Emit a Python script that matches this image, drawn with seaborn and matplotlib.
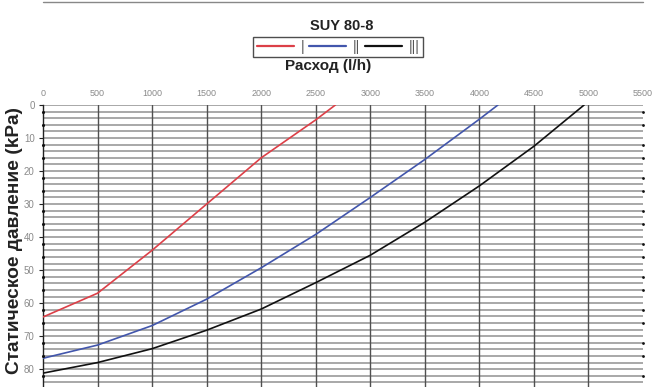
import numpy as np
import pandas as pd
import matplotlib
matplotlib.use("Agg")
import matplotlib.pyplot as plt
from matplotlib.lines import Line2D
import seaborn as sns

# Flow rate (l/h) and static pressure (kPa) for the three fan speeds
flow_I = [0, 500, 1000, 1500, 2000, 2500, 2680]
press_I = [64.2, 57.0, 44.0, 30.0, 16.0, 4.5, 0.0]

flow_II = [0, 500, 1000, 1500, 2000, 2500, 3000, 3500, 4000, 4170]
press_II = [76.7, 72.7, 66.8, 58.8, 49.3, 39.2, 28.0, 16.5, 4.3, 0.0]

flow_III = [0, 500, 1000, 1500, 2000, 2500, 3000, 3500, 4000, 4500, 4960]
press_III = [81.2, 78.0, 73.8, 68.2, 61.8, 53.8, 45.5, 35.5, 24.5, 12.5, 0.0]

speed_labels = ["|", "||", "|||"]
speed_colors = ["#dc4048", "#4256ac", "#111111"]

x_ticks = list(range(0, 5501, 500))
y_ticks = list(range(0, 81, 10))
marker_levels = [v for k in range(0, 90, 10) for v in (k + 2, k + 6)]

title = "SUY 80-8"
x_title = "Расход (l/h)"
y_title = "Статическое давление (kPa)"

df = pd.concat([
    pd.DataFrame({"flow": flow_I, "pressure": press_I, "speed": speed_labels[0]}),
    pd.DataFrame({"flow": flow_II, "pressure": press_II, "speed": speed_labels[1]}),
    pd.DataFrame({"flow": flow_III, "pressure": press_III, "speed": speed_labels[2]}),
], ignore_index=True)

sns.set_theme(style="white")
plt.rcParams["font.family"] = ["Liberation Sans", "DejaVu Sans"]

fig = plt.figure(figsize=(6.52, 3.87), dpi=100)
ax = fig.add_axes([43 / 652, 0.0, 600 / 652, 1 - 105 / 387])

# pressure grid every 2 kPa, flow grid every 500 l/h
for yv in np.arange(0, 86, 2):
    ax.axhline(yv, color="#a8a8a8", lw=1.4, zorder=1)
for xv in x_ticks[1:-1]:
    ax.axvline(xv, color="#505050", lw=1.0, zorder=1)

sns.lineplot(data=df, x="flow", y="pressure", hue="speed",
             palette=dict(zip(speed_labels, speed_colors)),
             sort=False, estimator=None, lw=1.2, ax=ax, zorder=3)

# small dot markers along both vertical edges
ax.scatter([0] * len(marker_levels), marker_levels, s=5, color="#111111",
           zorder=4, clip_on=False, linewidths=0)
ax.scatter([5500] * len(marker_levels), marker_levels, s=4, color="#111111",
           zorder=4, clip_on=False, linewidths=0)

ax.set_xlim(0, 5500)
ax.set_ylim(85.4, 0)
ax.xaxis.tick_top()
ax.set_xticks(x_ticks)
ax.set_yticks(y_ticks)
ax.tick_params(axis="x", length=0, pad=5, labelsize=6.5, labelcolor="#8a8a8a")
ax.tick_params(axis="y", length=3, width=0.8, color="#222222", direction="out",
               pad=3, labelsize=7, labelcolor="#8a8a8a", left=True)
ax.set_xlabel("")
ax.set_ylabel(y_title, fontsize=13.8, fontweight="bold", color="#222222")
ax.yaxis.set_label_coords(-0.034, 0.521)
for side in ("top", "right", "bottom"):
    ax.spines[side].set_visible(False)
ax.spines["left"].set_color("#222222")
ax.spines["left"].set_linewidth(1.0)

handles, labels = ax.get_legend_handles_labels()
ax.legend_.remove()
leg = fig.legend(handles, labels, ncol=3, loc="center",
                 bbox_to_anchor=(338 / 652, 1 - 47 / 387),
                 frameon=True, fancybox=False, edgecolor="#222222",
                 fontsize=10, handlelength=2.7, handletextpad=0.45,
                 columnspacing=0.35, borderpad=0.25, labelcolor="#555555")
leg.get_frame().set_linewidth(1.0)
for h in leg.get_lines():
    h.set_linewidth(1.6)

fig.text(342 / 652, 1 - 26 / 387, title, ha="center", va="center",
         fontsize=10.5, fontweight="bold", color="#222222")
fig.text(328 / 652, 1 - 66 / 387, x_title, ha="center", va="center",
         fontsize=11, fontweight="bold", color="#222222")

# edge of the preceding chart along the top border
fig.add_artist(Line2D([43 / 652, 643 / 652], [1 - 1.5 / 387, 1 - 1.5 / 387],
                      color="#888888", lw=1.0))

fig.savefig("out.png", dpi=100)
